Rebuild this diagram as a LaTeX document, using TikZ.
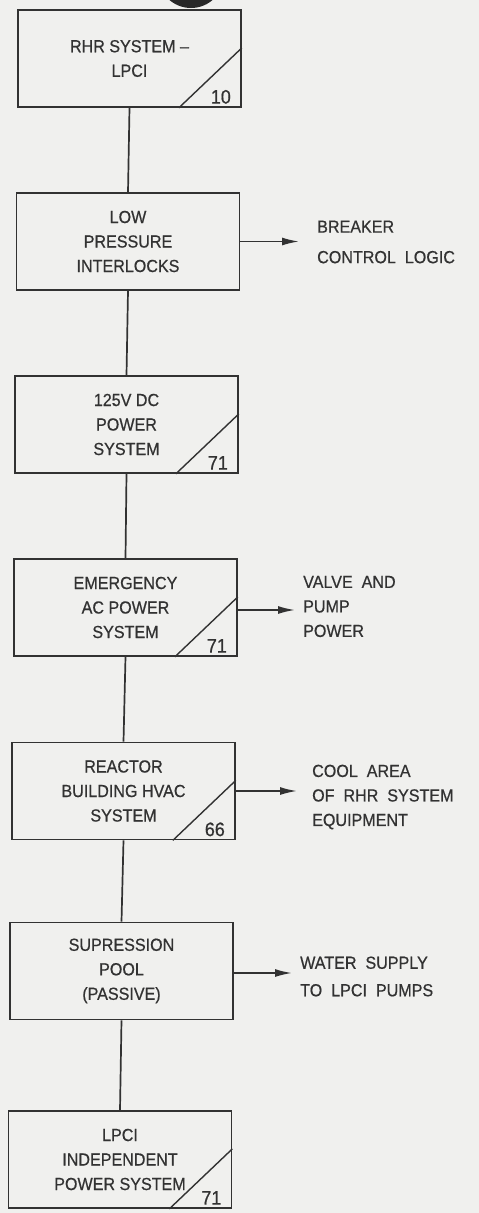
\documentclass[tikz,border=0pt]{standalone}
\usepackage{fontspec}
\setmainfont{Liberation Sans}[FakeStretch=0.92, FakeBold=0.6]
\usetikzlibrary{arrows.meta,calc}
\definecolor{bg}{RGB}{240,240,238}
\definecolor{ink}{RGB}{50,50,50}
\definecolor{blob}{RGB}{40,40,40}
\begin{document}
\begin{tikzpicture}[x=1pt,y=-1pt,
  box/.style={draw=ink, line width=1.7pt, minimum width=223pt, minimum height=97pt,
    inner sep=0pt, align=center, font=\fontsize{17.5}{24.5}\selectfont, text=ink},
  num/.style={font=\fontsize{19.5}{19.5}\selectfont, text=ink, inner sep=0pt},
  lbl/.style={anchor=west, align=left, inner sep=0pt,
    font=\fontsize{17.5}{24.5}\selectfont, text=ink},
  conn/.style={draw=ink, line width=1.7pt},
  arr/.style={conn, -{Latex[length=17pt,width=8pt]}},
  diag/.style={conn, line width=1.4pt}
]
\fill[bg] (0,0) rectangle (479,1213);
\useasboundingbox (0,0) rectangle (479,1213);
\begin{scope}
  \clip (0,0) rectangle (479,1213);
  \fill[blob] (191,-25) circle (33);
\end{scope}

\node[box] (b1) at (129.5,58.5) {RHR SYSTEM --\\LPCI};
\node[box] (b2) at (128,241.5) {LOW\\PRESSURE\\INTERLOCKS};
\node[box] (b3) at (126.5,424.5) {125V DC\\POWER\\SYSTEM};
\node[box] (b4) at (125.5,607.5) {EMERGENCY\\AC POWER\\SYSTEM};
\node[box] (b5) at (123.5,791) {REACTOR\\BUILDING HVAC\\SYSTEM};
\node[box] (b6) at (121.5,971) {SUPRESSION\\POOL\\(PASSIVE)};
\node[box] (b7) at (120,1159.5) {LPCI\\INDEPENDENT\\POWER SYSTEM};

\foreach \b/\n in {b1/10, b3/71, b4/71, b5/66, b7/71}{
  \draw[diag] ($(\b.south east)+(-63,0)$) -- ($(\b.south east)+(0,-60)$);
  \node[num] at ($(\b.south east)+(-21,-11)$) {\n};
}

\draw[conn] (b1.south) -- (b2.north);
\draw[conn] (b2.south) -- (b3.north);
\draw[conn] (b3.south) -- (b4.north);
\draw[conn] (b4.south) -- (b5.north);
\draw[conn] (b5.south) -- (b6.north);
\draw[conn] (b6.south) -- (b7.north);

\node[lbl] (l2) at (317,242) {BREAKER\\[6pt]CONTROL\ \ LOGIC};
\node[lbl] (l4) at (303,606.5) {VALVE\ \ AND\\PUMP\\POWER};
\node[lbl] (l5) at (312,797) {COOL\ \ AREA\\OF\ \ RHR\ \ SYSTEM\\EQUIPMENT};
\node[lbl] (l6) at (300,976.5) {WATER\ \ SUPPLY\\[3pt]TO\ \ LPCI\ \ PUMPS};

\draw[arr] (b2.east) -- ($(l2.west |- b2.east)+(-18,0)$);
\draw[arr] ($(b4.east)+(0,2.5)$) -- ($(l4.west |- b4.east)+(-8,2.5)$);
\draw[arr] (b5.east) -- ($(l5.west |- b5.east)+(-15,0)$);
\draw[arr] ($(b6.east)+(0,2)$) -- ($(l6.west |- b6.east)+(-8,2)$);
\end{tikzpicture}
\end{document}
